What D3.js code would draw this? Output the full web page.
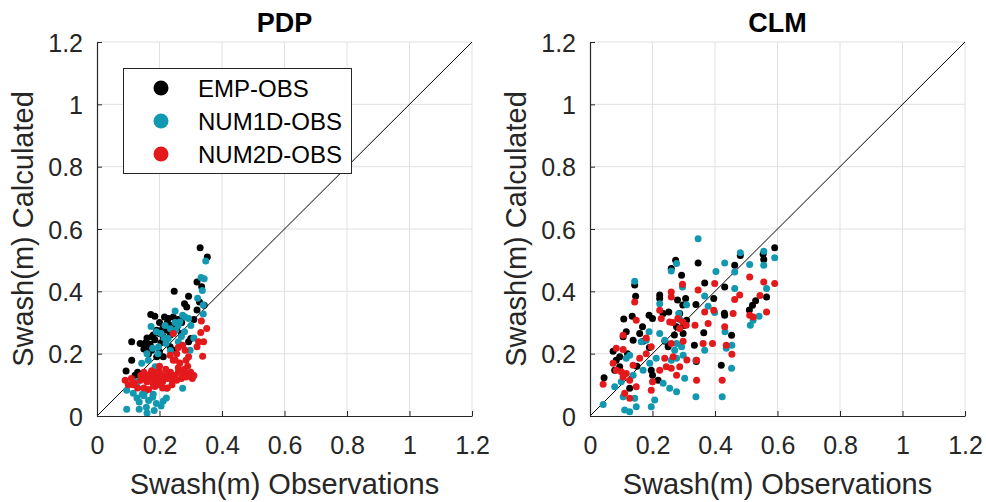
<!DOCTYPE html>
<html>
<head>
<meta charset="utf-8">
<script src="https://cdn.jsdelivr.net/npm/d3@7/dist/d3.min.js"></script>
<style>
  body { margin: 0; background: #fff; }
  svg { display: block; font-family: "Liberation Sans", Arial, Helvetica, sans-serif; }
</style>
</head>
<body>
<svg width="986" height="502"></svg>
<script>
// tick values for both axes
var ticks = [0, 0.2, 0.4, 0.6, 0.8, 1, 1.2];
var seriesNames = ["EMP-OBS", "NUM1D-OBS", "NUM2D-OBS"];
var seriesColors = ["#000000", "#1298b1", "#e3191b"];

// PDP panel [obs, calc]
var pdpEmp = [[0.33,0.54],[0.353,0.51],[0.32,0.43],[0.335,0.415],[0.328,0.366],[0.343,0.355],[0.247,0.40],[0.293,0.384],[0.28,0.36],[0.287,0.35],[0.172,0.326],[0.216,0.318],[0.228,0.313],[0.244,0.318],[0.191,0.275],[0.223,0.275],[0.255,0.28],[0.271,0.30],[0.176,0.254],[0.2,0.265],[0.212,0.254],[0.111,0.238],[0.138,0.233],[0.159,0.222],[0.175,0.211],[0.30,0.249],[0.293,0.238],[0.234,0.222],[0.244,0.211],[0.111,0.179],[0.093,0.144],[0.122,0.131],[0.143,0.126],[0.191,0.19],[0.2,0.206],[0.212,0.19],[0.265,0.305],[0.185,0.245],[0.15,0.215],[0.205,0.235],[0.235,0.26],[0.27,0.265],[0.31,0.31],[0.165,0.2],[0.185,0.32],[0.2,0.3],[0.155,0.235],[0.17,0.23],[0.18,0.26],[0.21,0.28],[0.225,0.3],[0.24,0.29],[0.26,0.31],[0.32,0.34],[0.13,0.14],[0.16,0.25]];
var pdpNum1d = [[0.348,0.497],[0.333,0.444],[0.343,0.44],[0.337,0.403],[0.322,0.378],[0.34,0.356],[0.34,0.327],[0.25,0.337],[0.274,0.323],[0.282,0.318],[0.293,0.313],[0.265,0.302],[0.173,0.287],[0.218,0.29],[0.252,0.275],[0.244,0.265],[0.228,0.249],[0.26,0.238],[0.178,0.217],[0.197,0.222],[0.221,0.233],[0.298,0.211],[0.143,0.169],[0.164,0.179],[0.186,0.158],[0.095,0.083],[0.116,0.073],[0.128,0.058],[0.15,0.065],[0.165,0.05],[0.135,0.045],[0.178,0.06],[0.212,0.048],[0.222,0.058],[0.095,0.022],[0.135,0.022],[0.16,0.01],[0.183,0.018],[0.205,0.032],[0.158,0.028],[0.274,0.089],[0.223,0.089],[0.25,0.3],[0.205,0.265],[0.31,0.25],[0.27,0.255],[0.13,0.11],[0.175,0.13],[0.2,0.115],[0.155,0.08],[0.115,0.105],[0.19,0.27],[0.235,0.28],[0.26,0.29],[0.28,0.27],[0.3,0.29],[0.215,0.25],[0.195,0.2],[0.235,0.21],[0.16,0.2],[0.18,0.07],[0.19,0.04],[0.145,0.07]];
var pdpNum2d = [[0.334,0.305],[0.351,0.281],[0.332,0.268],[0.325,0.238],[0.341,0.238],[0.32,0.222],[0.338,0.192],[0.244,0.265],[0.274,0.227],[0.282,0.211],[0.293,0.19],[0.285,0.179],[0.234,0.195],[0.244,0.179],[0.14,0.13],[0.155,0.125],[0.17,0.135],[0.185,0.13],[0.2,0.14],[0.215,0.13],[0.23,0.135],[0.245,0.125],[0.26,0.14],[0.275,0.13],[0.29,0.135],[0.305,0.12],[0.16,0.11],[0.18,0.115],[0.195,0.12],[0.21,0.11],[0.225,0.12],[0.24,0.115],[0.255,0.115],[0.27,0.12],[0.15,0.14],[0.175,0.145],[0.22,0.15],[0.26,0.155],[0.2,0.16],[0.09,0.115],[0.1,0.1],[0.115,0.1],[0.13,0.09],[0.15,0.09],[0.165,0.085],[0.185,0.095],[0.21,0.09],[0.225,0.09],[0.11,0.12],[0.195,0.1],[0.265,0.17],[0.29,0.16],[0.255,0.2],[0.28,0.15],[0.17,0.12],[0.19,0.14],[0.205,0.125],[0.235,0.14],[0.25,0.13],[0.285,0.125],[0.3,0.14],[0.14,0.115],[0.12,0.105],[0.18,0.1],[0.24,0.1],[0.27,0.14],[0.31,0.13],[0.25,0.18],[0.26,0.22]];

// CLM panel [obs, calc]
var clmEmp = [[0.591,0.54],[0.554,0.519],[0.556,0.502],[0.481,0.515],[0.463,0.484],[0.346,0.491],[0.274,0.5],[0.26,0.473],[0.293,0.452],[0.367,0.427],[0.396,0.377],[0.431,0.414],[0.339,0.358],[0.364,0.267],[0.431,0.323],[0.453,0.259],[0.42,0.163],[0.223,0.388],[0.223,0.377],[0.143,0.42],[0.146,0.384],[0.234,0.329],[0.189,0.323],[0.2,0.313],[0.28,0.372],[0.306,0.377],[0.297,0.356],[0.287,0.329],[0.309,0.307],[0.277,0.286],[0.298,0.265],[0.252,0.334],[0.108,0.311],[0.135,0.32],[0.168,0.286],[0.159,0.265],[0.138,0.243],[0.074,0.208],[0.116,0.27],[0.106,0.254],[0.196,0.147],[0.2,0.131],[0.218,0.115],[0.127,0.089],[0.045,0.123],[0.084,0.179],[0.095,0.158],[0.079,0.147],[0.51,0.34],[0.52,0.355],[0.53,0.37],[0.565,0.382],[0.334,0.227],[0.25,0.222],[0.27,0.26],[0.24,0.24],[0.19,0.22],[0.12,0.2],[0.095,0.19],[0.3,0.29],[0.17,0.24],[0.43,0.33],[0.15,0.16],[0.34,0.175]];
var clmNum1d = [[0.346,0.569],[0.481,0.524],[0.556,0.529],[0.556,0.484],[0.591,0.508],[0.431,0.491],[0.403,0.464],[0.511,0.486],[0.463,0.462],[0.463,0.409],[0.565,0.409],[0.277,0.489],[0.26,0.465],[0.143,0.432],[0.223,0.36],[0.367,0.385],[0.309,0.357],[0.378,0.352],[0.296,0.414],[0.284,0.329],[0.432,0.27],[0.454,0.227],[0.436,0.217],[0.367,0.211],[0.453,0.153],[0.339,0.179],[0.339,0.062],[0.423,0.062],[0.513,0.291],[0.522,0.307],[0.541,0.32],[0.303,0.121],[0.234,0.105],[0.255,0.089],[0.277,0.078],[0.207,0.051],[0.196,0.03],[0.148,0.03],[0.127,0.014],[0.111,0.019],[0.042,0.037],[0.106,0.062],[0.143,0.057],[0.079,0.094],[0.1,0.11],[0.138,0.131],[0.17,0.147],[0.191,0.169],[0.212,0.185],[0.26,0.179],[0.277,0.185],[0.293,0.222],[0.277,0.233],[0.164,0.238],[0.18,0.243],[0.189,0.27],[0.116,0.185],[0.127,0.195],[0.239,0.243],[0.223,0.265],[0.271,0.211],[0.298,0.195],[0.399,0.332],[0.287,0.31]];
var clmNum2d = [[0.591,0.425],[0.565,0.334],[0.556,0.43],[0.511,0.446],[0.544,0.387],[0.479,0.388],[0.463,0.374],[0.458,0.329],[0.431,0.286],[0.436,0.227],[0.454,0.198],[0.423,0.115],[0.511,0.323],[0.522,0.318],[0.399,0.425],[0.346,0.404],[0.396,0.339],[0.378,0.297],[0.367,0.334],[0.362,0.233],[0.392,0.233],[0.336,0.291],[0.341,0.179],[0.341,0.115],[0.296,0.423],[0.26,0.398],[0.26,0.382],[0.223,0.339],[0.228,0.313],[0.281,0.313],[0.297,0.302],[0.287,0.281],[0.308,0.291],[0.255,0.302],[0.143,0.366],[0.148,0.307],[0.18,0.25],[0.196,0.222],[0.18,0.2],[0.159,0.185],[0.138,0.163],[0.106,0.259],[0.084,0.217],[0.106,0.213],[0.074,0.169],[0.084,0.147],[0.1,0.142],[0.116,0.136],[0.042,0.102],[0.106,0.125],[0.127,0.115],[0.111,0.073],[0.127,0.057],[0.148,0.094],[0.196,0.083],[0.2,0.11],[0.223,0.147],[0.244,0.158],[0.26,0.153],[0.277,0.131],[0.287,0.158],[0.239,0.185],[0.266,0.19],[0.298,0.24],[0.26,0.233],[0.265,0.3],[0.31,0.18]];

var panels = [
  {title: "PDP", left: 97, series: [pdpEmp, pdpNum1d, pdpNum2d], legend: true},
  {title: "CLM", left: 590, series: [clmEmp, clmNum1d, clmNum2d], legend: false}
];

var svg = d3.select("svg");
var plotTop = 42, plotW = 375, plotH = 374;
var textCol = "#262626";

panels.forEach(function(p) {
  var x = d3.scaleLinear().domain([0, 1.2]).range([p.left, p.left + plotW]);
  var y = d3.scaleLinear().domain([0, 1.2]).range([plotTop + plotH, plotTop]);
  var g = svg.append("g");

  // grid
  g.selectAll(".gx").data(ticks.slice(1)).enter().append("line")
    .attr("x1", function(d) { return x(d); }).attr("x2", function(d) { return x(d); })
    .attr("y1", y(0)).attr("y2", y(1.2))
    .attr("stroke", "#e0e0e0").attr("stroke-width", 1);
  g.selectAll(".gy").data(ticks.slice(1)).enter().append("line")
    .attr("x1", x(0)).attr("x2", x(1.2))
    .attr("y1", function(d) { return y(d); }).attr("y2", function(d) { return y(d); })
    .attr("stroke", "#e0e0e0").attr("stroke-width", 1);

  // 1:1 line
  g.append("line")
    .attr("x1", x(0)).attr("y1", y(0)).attr("x2", x(1.2)).attr("y2", y(1.2))
    .attr("stroke", "#000").attr("stroke-width", 1);

  // points
  p.series.forEach(function(s, i) {
    g.selectAll(".pt" + i).data(s).enter().append("circle")
      .attr("cx", function(d) { return x(d[0]); })
      .attr("cy", function(d) { return y(d[1]); })
      .attr("r", 3.5)
      .attr("fill", seriesColors[i]);
  });

  // axes
  var fmt = function(d) { return d3.format("")(d); };
  var xAxis = d3.axisBottom(x).tickValues(ticks).tickSizeInner(-5).tickSizeOuter(0).tickFormat(fmt);
  var yAxis = d3.axisLeft(y).tickValues(ticks).tickSizeInner(-5).tickSizeOuter(0).tickFormat(fmt);

  var gx = g.append("g").attr("transform", "translate(0," + y(0) + ")").call(xAxis);
  var gy = g.append("g").attr("transform", "translate(" + x(0) + ",0)").call(yAxis);
  [gx, gy].forEach(function(a) {
    a.select(".domain").attr("stroke", textCol).attr("stroke-width", 1.2);
    a.selectAll(".tick line").attr("stroke", textCol);
    a.selectAll(".tick text").attr("fill", textCol).style("font-size", "25px")
      .style("font-family", "'Liberation Sans', Arial, sans-serif");
  });
  gx.selectAll(".tick text").attr("y", 38).attr("dy", null);
  gy.selectAll(".tick text").attr("x", -14).attr("dy", "0.36em");

  // titles and labels
  g.append("text").attr("x", x(0.6)).attr("y", 32).attr("text-anchor", "middle")
    .attr("font-weight", "bold").attr("font-size", 27).attr("fill", "#000").text(p.title);
  g.append("text").attr("x", x(0.6)).attr("y", 494).attr("text-anchor", "middle")
    .attr("font-size", 29).attr("fill", textCol).text("Swash(m) Observations");
  g.append("text").attr("transform", "translate(" + (p.left - 64) + "," + y(0.6) + ") rotate(-90)")
    .attr("text-anchor", "middle").attr("font-size", 29).attr("fill", textCol)
    .text("Swash(m) Calculated");

  // legend
  if (p.legend) {
    var lg = g.append("g");
    lg.append("rect").attr("x", 123.5).attr("y", 68.5).attr("width", 228).attr("height", 105)
      .attr("fill", "#fff").attr("stroke", textCol).attr("stroke-width", 1);
    seriesNames.forEach(function(n, i) {
      var yy = 88 + i * 33;
      lg.append("circle").attr("cx", 161).attr("cy", yy).attr("r", 7.5).attr("fill", seriesColors[i]);
      lg.append("text").attr("x", 198).attr("y", yy).attr("dy", "0.36em")
        .attr("font-size", 24).attr("fill", "#000").text(n);
    });
  }
});
</script>
</body>
</html>
